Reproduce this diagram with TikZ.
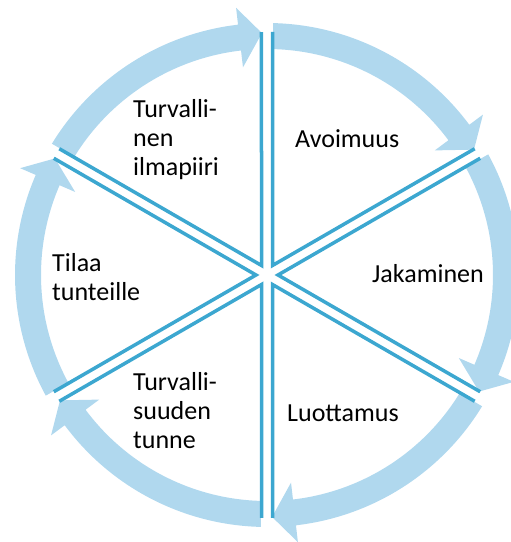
\documentclass[tikz,border=0pt]{standalone}
\usepackage{fontspec}
\setmainfont{Carlito}
\definecolor{arrowblue}{RGB}{176,216,238}
\definecolor{spokeblue}{RGB}{60,167,208}
\begin{document}
\begin{tikzpicture}[x=1pt,y=1pt,
  cyclearrow/.style={fill=arrowblue,draw=none},
  spokeline/.style={draw=spokeblue,line width=3.5pt},
  lbl/.style={font=\fontsize{26}{29}\selectfont,inner sep=0pt,anchor=base west,text=black}]
\useasboundingbox (0,0) rectangle (511,542);
\coordinate (C) at (267,267);
% arrows of the cycle
\foreach \a in {90,30,-30,-90,-150,150}{
  \begin{scope}[shift={(C)},rotate=\a]
    \fill[cyclearrow] (-1.4:252) arc[start angle=-1.4,end angle=-53.4,radius=252]
      -- (-53.4:269) -- (-58.8:242) -- (-53.4:209) -- (-53.4:226)
      arc[start angle=-53.4,end angle=-1.5,radius=226] -- cycle;
  \end{scope}
}
% sector borders (double spokes)
\foreach \a in {90,30,-30,-90,-150,150}{
  \begin{scope}[shift={(C)},rotate=\a]
    \draw[spokeline] (243,-5.5) -- (9.526,-5.5) -- (126.263,-207.69);
  \end{scope}
}
% labels
\node[lbl] (t1) at (133,424) {\vtop{\hbox{Turvalli-}\hbox{nen}\hbox{ilmapiiri}}};
\node[lbl] (t2) at (295,394) {Avoimuus};
\node[lbl] (t3) at (372,259) {Jakaminen};
\node[lbl] (t4) at (287,120) {Luottamus};
\node[lbl] (t5) at (133,151) {\vtop{\hbox{Turvalli-}\hbox{suuden}\hbox{tunne}}};
\node[lbl] (t6) at (52,270) {\vtop{\hbox{Tilaa}\hbox{tunteille}}};
\end{tikzpicture}
\end{document}
